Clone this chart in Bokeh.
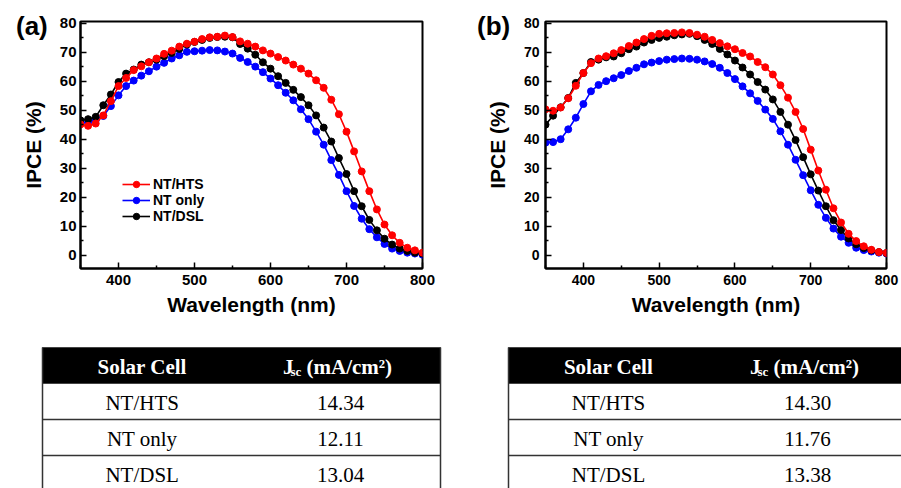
from bokeh.plotting import figure
from bokeh.layouts import column, row
from bokeh.models import (Range1d, FixedTicker, Legend, LegendItem, Div)
from bokeh.embed import file_html
from bokeh.resources import INLINE
from bokeh.core.properties import value

# ---------------- data ----------------
wavelength = list(range(350, 801, 10))

a_hts = [45.1, 44.6, 45.4, 48.2, 53.1, 58.3, 61.1, 63.8, 65.1, 66.5, 67.8, 69.4, 70.5, 71.9,
         72.9, 73.6, 74.5, 75.1, 75.3, 75.7, 75.2, 73.7, 72.9, 71.9, 70.6, 69.5, 68.3, 67.1,
         65.7, 64.3, 62.6, 60.3, 57.7, 53.6, 48.6, 42.6, 35.8, 28.9, 22.1, 15.8, 10.6, 6.9,
         4.3, 2.6, 1.7, 0.9]
a_only = [45.6, 45.8, 46.5, 48.0, 51.4, 55.1, 58.3, 60.2, 61.9, 63.4, 65.0, 66.3, 67.8, 68.9,
          70.1, 70.3, 70.5, 70.7, 70.6, 70.2, 69.5, 68.0, 66.6, 65.0, 63.1, 60.9, 58.6, 56.0,
          53.4, 50.3, 46.9, 42.6, 38.1, 32.8, 27.7, 22.1, 17.0, 12.6, 9.0, 6.2, 3.9, 2.3,
          1.5, 0.9, 0.6, 0.2]
a_dsl = [46.5, 46.9, 47.7, 51.7, 55.4, 59.7, 62.6, 64.0, 65.7, 66.5, 67.4, 68.6, 69.7, 71.1,
         72.6, 73.5, 74.2, 74.9, 75.2, 75.3, 75.1, 72.8, 71.2, 69.1, 66.5, 64.3, 61.7, 59.4,
         57.0, 54.5, 51.7, 48.2, 44.0, 39.2, 33.5, 28.0, 22.1, 16.9, 12.2, 8.6, 5.7, 3.7,
         2.3, 1.5, 0.9, 0.6]

b_hts = [50.3, 49.8, 50.9, 54.1, 58.4, 62.8, 66.2, 67.8, 68.6, 69.6, 70.7, 72.1, 73.3, 74.5,
         75.6, 76.3, 76.5, 76.6, 76.8, 76.6, 76.0, 75.3, 74.2, 73.1, 72.0, 71.0, 69.7, 68.5,
         66.6, 64.8, 62.3, 58.6, 54.3, 49.4, 43.5, 36.4, 29.2, 22.6, 16.2, 11.3, 7.4, 4.9,
         3.1, 1.9, 1.1, 0.8]
b_only = [38.8, 39.0, 40.0, 43.4, 47.4, 52.1, 56.5, 58.7, 60.0, 61.0, 62.1, 63.5, 64.6, 65.8,
          66.4, 66.9, 67.4, 67.6, 67.8, 67.7, 67.4, 66.8, 65.9, 64.6, 62.8, 60.7, 58.2, 55.8,
          53.2, 50.2, 47.0, 42.7, 38.1, 32.9, 27.6, 22.4, 17.4, 12.9, 9.2, 6.4, 4.3, 2.6,
          1.8, 1.3, 0.9, 0.6]
b_dsl = [45.0, 48.1, 51.0, 54.2, 59.4, 62.8, 66.6, 67.4, 68.2, 68.5, 69.6, 71.0, 71.9, 73.3,
         74.2, 74.9, 75.3, 75.8, 76.1, 76.3, 75.5, 74.2, 72.8, 71.1, 69.2, 67.1, 64.7, 62.3,
         59.7, 57.1, 53.7, 49.4, 45.0, 39.7, 33.8, 27.9, 22.3, 16.9, 12.1, 8.7, 5.8, 3.8,
         2.5, 1.7, 1.1, 0.8]

series_names = ["NT/HTS", "NT only", "NT/DSL"]
series_colors = ["#ff0000", "#0000ff", "#000000"]

x_major = [400, 500, 600, 700, 800]
x_minor = [350, 450, 550, 650, 750]
y_major = [0, 10, 20, 30, 40, 50, 60, 70, 80]
y_minor = [5, 15, 25, 35, 45, 55, 65, 75]

panel_tags = ["(a)", "(b)"]
table_header = ["Solar Cell", "J", "sc", "(mA/cm\u00b2)"]
table_cells = ["NT/HTS", "NT only", "NT/DSL"]
jsc_a = ["14.34", "12.11", "13.04"]
jsc_b = ["14.30", "11.76", "13.38"]

SANS = "Liberation Sans"
SERIF = "Liberation Serif"


def make_panel(width, left, right, top, bottom, ys, tick_font, tick_standoff, with_legend):
    p = figure(width=width, height=320, output_backend="svg", toolbar_location=None,
               x_range=Range1d(350, 800), y_range=Range1d(-4.55, 80.55),
               min_border_left=left, min_border_right=right,
               min_border_top=top, min_border_bottom=bottom)
    p.grid.visible = False
    p.outline_line_color = "black"
    p.outline_line_width = 2
    p.background_fill_color = "white"
    p.border_fill_color = "white"

    p.xaxis.ticker = FixedTicker(ticks=x_major, minor_ticks=x_minor)
    p.yaxis.ticker = FixedTicker(ticks=y_major, minor_ticks=y_minor)
    for ax in (p.xaxis[0], p.yaxis[0]):
        ax.axis_line_width = 2
        ax.axis_line_color = "black"
        ax.major_tick_out = 0
        ax.major_tick_in = 6
        ax.minor_tick_out = 0
        ax.minor_tick_in = 3
        ax.major_tick_line_width = 1.5
        ax.minor_tick_line_width = 1.5
        ax.major_label_text_font = SANS
        ax.major_label_text_font_style = "bold"
        ax.major_label_text_font_size = tick_font
        ax.major_label_text_color = "black"
        ax.axis_label_text_font = SANS
        ax.axis_label_text_font_style = "bold"
        ax.axis_label_text_font_size = "21px"
        ax.axis_label_text_color = "black"
    p.xaxis.axis_label = "Wavelength (nm)"
    p.yaxis.axis_label = "IPCE (%)"
    p.xaxis.major_label_standoff = 6
    p.xaxis.axis_label_standoff = 5
    p.yaxis.major_label_standoff = tick_standoff
    p.yaxis.axis_label_standoff = 12

    renderers = {}
    order = [1, 2, 0]  # draw blue, black, then red on top
    for i in order:
        ln = p.line(wavelength, ys[i], line_color=series_colors[i], line_width=1.6)
        sc = p.scatter(wavelength, ys[i], marker="circle", size=7,
                       fill_color=series_colors[i], line_color=series_colors[i])
        renderers[i] = [ln, sc]

    if with_legend:
        items = [LegendItem(label=series_names[i], renderers=renderers[i]) for i in range(3)]
        leg = Legend(items=items, location=(42, 44), padding=0, margin=0, spacing=0,
                     glyph_width=28, glyph_height=16, label_height=16, label_standoff=3,
                     border_line_color=None, background_fill_alpha=0,
                     label_text_font=SANS, label_text_font_style="bold",
                     label_text_font_size="14px", label_text_color="black")
        p.add_layout(leg)
    return p


pa = make_panel(450, 80, 28, 20, 52, [a_hts, a_only, a_dsl], "15px", 4, True)
pb = make_panel(451, 95, 15, 21, 51, [b_hts, b_only, b_dsl], "14px", 6, False)

# panel tags "(a)" / "(b)" as an overlay (annotations are clipped to the frame)
tag_style = ("position:absolute;top:6px;font-family:'Liberation Sans',Arial,sans-serif;"
             "font-weight:bold;font-size:26px;line-height:30px;color:black;white-space:nowrap;")
tags_html = (f"<span style=\"{tag_style}left:11px;\">{panel_tags[0]}</span>"
             f"<span style=\"{tag_style}left:472px;\">{panel_tags[1]}</span>")
tags = Div(text=tags_html, width=901, height=45,
           styles={"position": "absolute", "left": "0px", "top": "0px", "z-index": "10",
                   "pointer-events": "none", "overflow": "visible"})

# ---------------- tables ----------------
pt = figure(width=901, height=168, output_backend="svg", toolbar_location=None,
            x_range=Range1d(0, 901), y_range=Range1d(168, 0),
            min_border=0)
pt.axis.visible = False
pt.grid.visible = False
pt.outline_line_color = None

tables = [(42, 440, 141.7, 340, jsc_a), (508, 903, 608, 807, jsc_b)]
hdr_top, hdr_bot = 27, 63
row_h = 36
for left, right, c1, c2, jsc in tables:
    pt.quad(left=[left], right=[right], top=[hdr_top], bottom=[hdr_bot],
            fill_color="black", line_color="#444444", line_width=1)
    pt.segment(x0=[left, right], y0=[hdr_top, hdr_top], x1=[left, right], y1=[170, 170],
               line_color="#333333", line_width=1.5)
    seps = [hdr_bot + row_h * k for k in (1, 2)]
    pt.segment(x0=[left] * 2, y0=seps, x1=[right] * 2, y1=seps,
               line_color="#333333", line_width=1.5)
    pt.text(x=[c1], y=[hdr_top + 19], text=[table_header[0]], text_font=value(SERIF),
            text_font_style="bold", text_font_size="21px", text_color="white",
            text_align="center", text_baseline="middle")
    pt.text(x=[c2 - 57.5], y=[hdr_top + 19], text=[table_header[1]], text_font=value(SERIF),
            text_font_style="bold", text_font_size="21px", text_color="white",
            text_align="left", text_baseline="middle")
    pt.text(x=[c2 - 50], y=[hdr_top + 24], text=[table_header[2]], text_font=value(SERIF),
            text_font_style="bold", text_font_size="13px", text_color="white",
            text_align="left", text_baseline="middle")
    pt.text(x=[c2 - 34], y=[hdr_top + 19], text=[table_header[3]], text_font=value(SERIF),
            text_font_style="bold", text_font_size="21px", text_color="white",
            text_align="left", text_baseline="middle")
    ys = [hdr_bot + row_h * k + row_h / 2 + 1 for k in range(3)]
    pt.text(x=[c1] * 3, y=ys, text=table_cells, text_font=value(SERIF),
            text_font_size="21px", text_color="black",
            text_align="center", text_baseline="middle")
    pt.text(x=[c2] * 3, y=ys, text=jsc, text_font=value(SERIF),
            text_font_size="21px", text_color="black",
            text_align="center", text_baseline="middle")

layout = column(tags, row(pa, pb), pt, styles={"position": "relative"})
open("out.html", "w").write(file_html(layout, INLINE))
